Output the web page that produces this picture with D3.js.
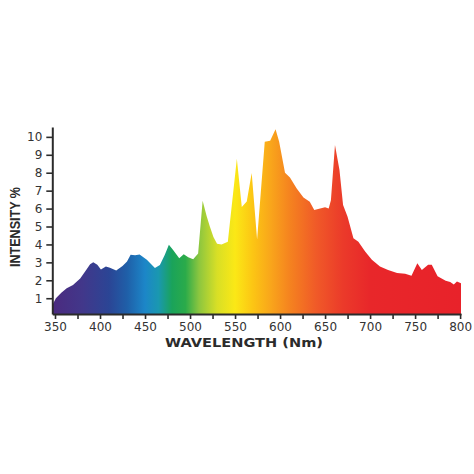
<!DOCTYPE html>
<html>
<head>
<meta charset="utf-8">
<script src="https://cdn.jsdelivr.net/npm/d3@7"></script>
<style>
  html, body { margin: 0; padding: 0; background: #fff; }
  svg { display: block; }
</style>
</head>
<body>
<svg id="chart" width="474" height="474"></svg>
<script>
// ---- data ----
const wavelengths = [347, 348, 351, 357, 363, 370, 378, 385, 389, 392.5, 397, 401, 406.5, 411, 418, 425, 430, 434, 439, 444, 452, 461, 466.5, 472, 476.5, 481, 488, 493, 498, 503.5, 509, 514, 518.5, 522, 526, 530, 535, 542, 552, 557.5, 563, 568.5, 574.5, 583, 589, 595, 599, 605.5, 611, 618.5, 626, 633, 638, 644.5, 650, 654, 656.5, 661, 666, 670, 675, 681.5, 687, 694.5, 702, 711, 720, 730, 739, 746, 752.5, 757.5, 764.5, 768.5, 775, 784, 789, 793, 796.5, 801];
const intensity   = [0.6, 0.7, 1.0, 1.3, 1.56, 1.74, 2.1, 2.6, 2.9, 3.0, 2.87, 2.6, 2.77, 2.7, 2.55, 2.8, 3.05, 3.42, 3.4, 3.44, 3.14, 2.68, 2.85, 3.42, 3.98, 3.7, 3.23, 3.45, 3.28, 3.17, 3.5, 6.44, 5.57, 5.0, 4.41, 4.04, 4.0, 4.15, 8.78, 6.09, 6.4, 7.99, 4.27, 9.73, 9.79, 10.43, 9.73, 8.0, 7.74, 7.12, 6.62, 6.38, 5.92, 6.01, 6.07, 6.0, 6.47, 9.54, 8.15, 6.2, 5.55, 4.35, 4.15, 3.6, 3.14, 2.77, 2.58, 2.4, 2.36, 2.25, 2.95, 2.58, 2.86, 2.86, 2.22, 1.98, 1.9, 1.76, 1.93, 1.84];

const xTickValues = [350, 375, 400, 425, 450, 475, 500, 525, 550, 575, 600, 625, 650, 675, 700, 725, 750, 775, 800];
const xLabelValues = [350, 400, 450, 500, 550, 600, 650, 700, 750, 800];
const yTickValues = [1, 2, 3, 4, 5, 6, 7, 8, 9, 10];

const gradientNm     = [345, 380, 410, 430, 450, 465, 480, 495, 510, 530, 550, 570, 590, 610, 640, 670, 700, 800];
const gradientColors = ["#4b2a7f", "#42378a", "#2b4595", "#1f5fa8", "#1c86c8", "#1a98b0", "#1aa35a", "#2bab4a", "#8cc63f", "#d8df26", "#fbe816", "#fcc514", "#f9a51b", "#f5841f", "#f05a28", "#eb3a2a", "#e8272a", "#e8222a"];

const xDomain = [347, 801];
const yDomain = [0.12, 10.55];

// ---- chart ----
const svg = d3.select("#chart");
const x = d3.scaleLinear().domain(xDomain).range([52.3, 461]);
const y = d3.scaleLinear().domain(yDomain).range([314, 127]);

const defs = svg.append("defs");
const grad = defs.append("linearGradient")
  .attr("id", "spectrum")
  .attr("gradientUnits", "userSpaceOnUse")
  .attr("x1", x(xDomain[0])).attr("x2", x(xDomain[1]))
  .attr("y1", 0).attr("y2", 0);
gradientNm.forEach((nm, i) => {
  grad.append("stop")
    .attr("offset", (x(nm) - x(xDomain[0])) / (x(xDomain[1]) - x(xDomain[0])))
    .attr("stop-color", gradientColors[i]);
});

const points = wavelengths.map((w, i) => [w, intensity[i]]);
const area = d3.area()
  .x(d => x(d[0]))
  .y0(y(yDomain[0]))
  .y1(d => y(d[1]));

svg.append("path")
  .datum(points)
  .attr("d", area)
  .attr("fill", "url(#spectrum)");

const axisColor = "#2b2b2b";

// x axis
const xAxis = svg.append("g")
  .attr("transform", `translate(0,${y(yDomain[0])})`)
  .call(d3.axisBottom(x).tickValues(xTickValues).tickSize(5).tickSizeOuter(0)
    .tickFormat(d => xLabelValues.includes(d) ? d : ""));
xAxis.select(".domain").attr("stroke", axisColor).attr("stroke-width", 2);
xAxis.selectAll(".tick line").attr("stroke", axisColor).attr("stroke-width", 1.6);
xAxis.selectAll(".tick text")
  .attr("fill", "#333")
  .attr("dy", "1.05em")
  .attr("y", 4)
  .style("font-family", "'DejaVu Sans', Verdana, sans-serif")
  .style("font-size", "12px");

// y axis
const yAxis = svg.append("g")
  .attr("transform", `translate(${x(xDomain[0])},0)`)
  .call(d3.axisLeft(y).tickValues(yTickValues).tickSize(6).tickSizeOuter(0).tickPadding(4));
yAxis.select(".domain").attr("stroke", axisColor).attr("stroke-width", 2);
yAxis.selectAll(".tick line").attr("stroke", axisColor).attr("stroke-width", 1.6);
yAxis.selectAll(".tick text")
  .attr("fill", "#333")
  .style("font-family", "'DejaVu Sans', Verdana, sans-serif")
  .style("font-size", "12px");

// titles
svg.append("text")
  .attr("x", 244).attr("y", 347)
  .attr("text-anchor", "middle")
  .attr("textLength", 158)
  .attr("lengthAdjust", "spacingAndGlyphs")
  .attr("fill", "#2b2b2b")
  .style("font-family", "'DejaVu Sans', Verdana, sans-serif")
  .style("font-weight", "bold")
  .style("font-size", "11.5px")
  .text("WAVELENGTH (Nm)");

svg.append("text")
  .attr("transform", "translate(20,227) rotate(-90)")
  .attr("text-anchor", "middle")
  .attr("textLength", 80)
  .attr("lengthAdjust", "spacingAndGlyphs")
  .attr("fill", "#2b2b2b")
  .style("font-family", "'Liberation Sans Narrow', 'Arial Narrow', 'Liberation Sans', sans-serif")
  .style("font-weight", "bold")
  .style("font-size", "14px")
  .text("INTENSITY %");
</script>
</body>
</html>
